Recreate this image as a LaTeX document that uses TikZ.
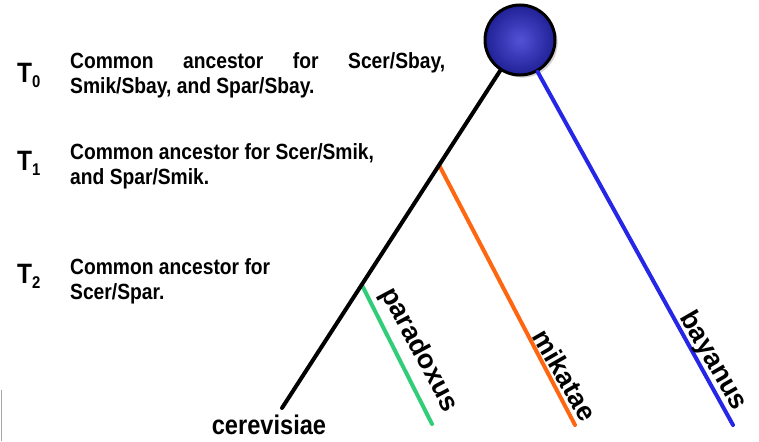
\documentclass[tikz,border=0pt]{standalone}
\usepackage{fontspec}
\setmainfont{Liberation Sans}
\newfontfamily\condfont{Liberation Sans}[FakeStretch=0.875]
\usetikzlibrary{positioning, calc, shadows}

\definecolor{parcol}{RGB}{50,205,120}
\definecolor{mikcol}{RGB}{255,102,17}
\definecolor{baycol}{RGB}{38,38,230}
\definecolor{ballin}{RGB}{82,82,215}
\definecolor{ballout}{RGB}{32,32,150}

\begin{document}
\begin{tikzpicture}[x=1pt, y=-1pt,
    branch/.style={line width=4pt, line cap=round},
    tlbl/.style={font=\condfont\fontsize{28}{28}\selectfont\bfseries, anchor=base west, inner sep=0pt},
    desc/.style={font=\condfont\fontsize{22}{25.5}\selectfont\bfseries, anchor=north west,
                 align=left, inner sep=0pt},
    sp/.style={font=\fontsize{27}{27}\selectfont\bfseries, inner sep=0pt}]
  \useasboundingbox (0,0) rectangle (759,441);

  % === Time labels and descriptions ===
  \node[tlbl] (t0) at (17,83) {T{\fontsize{17}{17}\selectfont\raisebox{-5pt}{0}}};
  \node[tlbl] (t1) at (17,170) {T{\fontsize{17}{17}\selectfont\raisebox{-5pt}{1}}};
  \node[tlbl] (t2) at (17,283) {T{\fontsize{17}{17}\selectfont\raisebox{-5pt}{2}}};

  \node[desc] (d0) at (70,52) {\makebox[375pt][s]{Common ancestor for Scer/Sbay,}\\
                               Smik/Sbay, and Spar/Sbay.};
  \node[desc] (d1) at (70,143) {Common ancestor for Scer/Smik,\\and Spar/Smik.};
  \node[desc] (d2) at (70,258) {Common ancestor for\\Scer/Spar.};

  % === Tree ===
  \node[circle, draw, line width=3pt, minimum size=70pt, inner color=ballin,
        outer color=ballout, drop shadow={opacity=0.35}] (root) at (520,40) {};

  \coordinate (cer) at (282,408);
  \coordinate (par) at (432,424);
  \coordinate (mik) at (575,425);
  \coordinate (bay) at (733,425);
  \coordinate (n1) at ($(root.center)!0.34!(cer)$);
  \coordinate (n2) at ($(root.center)!0.665!(cer)$);

  \draw[branch, mikcol] (n1) -- (mik);
  \draw[branch, parcol] (n2) -- (par);
  \draw[branch, baycol] (root) -- (bay);
  \draw[branch, black] (root) -- (cer);

  % === Species labels ===
  \node[font=\condfont\fontsize{27}{27}\selectfont\bfseries, anchor=base, inner sep=0pt]
    (cerlbl) at (269,434) {cerevisiae};
  \node[sp, rotate=-62] (parlbl) at (419,350) {paradoxus};
  \node[sp, rotate=-60] (miklbl) at (565,375) {mikatae};
  \node[sp, rotate=-60] (baylbl) at (713,361) {bayanus};

  % left edge mark
  \draw[gray!70, line width=1pt] (1.5,390) -- (1.5,441);

\end{tikzpicture}
\end{document}
